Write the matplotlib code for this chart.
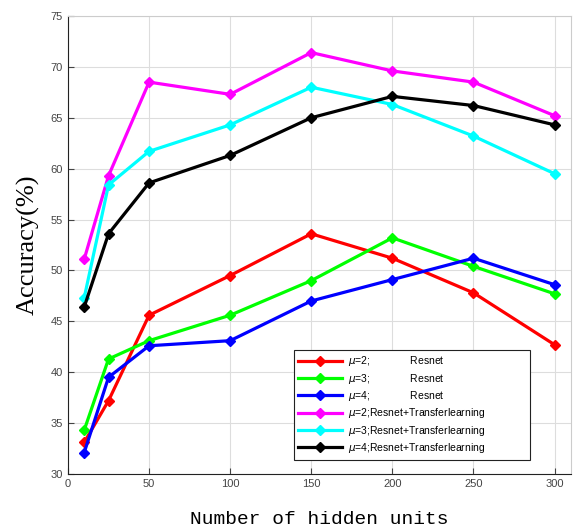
from matplotlib import pyplot as plt

HIDDEN_UNITS = [10, 25, 50, 100, 150, 200, 250, 300]

ACC_MU2_RESNET = [33.1, 37.2, 45.6, 49.5, 53.6, 51.2, 47.8, 42.7]
ACC_MU3_RESNET = [34.3, 41.3, 43.1, 45.6, 49.0, 53.2, 50.4, 47.7]
ACC_MU4_RESNET = [32.1, 39.5, 42.6, 43.1, 47.0, 49.1, 51.2, 48.6]
ACC_MU2_TRANSFER = [51.1, 59.3, 68.5, 67.3, 71.4, 69.6, 68.5, 65.2]
ACC_MU3_TRANSFER = [47.3, 58.4, 61.7, 64.3, 68.0, 66.3, 63.2, 59.5]
ACC_MU4_TRANSFER = [46.4, 53.6, 58.6, 61.3, 65.0, 67.1, 66.2, 64.3]

LABELS = [
    r"$\mu$=2;              Resnet",
    r"$\mu$=3;              Resnet",
    r"$\mu$=4;              Resnet",
    r"$\mu$=2;Resnet+Transferlearning",
    r"$\mu$=3;Resnet+Transferlearning",
    r"$\mu$=4;Resnet+Transferlearning",
]
COLORS = ["#ff0000", "#00ff00", "#0000ff", "#ff00ff", "#00ffff", "#000000"]

fig = plt.figure(figsize=(5.76, 5.32), dpi=100)
ax = fig.add_axes([0.118, 0.109, 0.873, 0.861])

series = [ACC_MU2_RESNET, ACC_MU3_RESNET, ACC_MU4_RESNET,
          ACC_MU2_TRANSFER, ACC_MU3_TRANSFER, ACC_MU4_TRANSFER]
for values, label, color in zip(series, LABELS, COLORS):
    ax.plot(HIDDEN_UNITS, values, color=color, linewidth=2.3, marker="D",
            markersize=5, label=label)

ax.set_xlim(0, 310)
ax.set_ylim(30, 75)
ax.set_xticks([0, 50, 100, 150, 200, 250, 300])
ax.set_yticks([30, 35, 40, 45, 50, 55, 60, 65, 70, 75])
ax.grid(True, color="#dddddd", linewidth=0.8)
ax.set_axisbelow(True)
ax.tick_params(direction="in", length=4, color="#444444", labelcolor="#444444",
               labelsize=8)
for lbl in ax.get_xticklabels() + ax.get_yticklabels():
    lbl.set_family("Liberation Sans")
ax.spines["left"].set_color("#222222")
ax.spines["bottom"].set_color("#222222")
ax.spines["top"].set_color("#cccccc")
ax.spines["right"].set_color("#cccccc")

ax.set_xlabel("Number of hidden units", family="Liberation Mono", fontsize=14,
              labelpad=16)
ax.set_ylabel("Accuracy(%)", family="Liberation Serif", fontsize=19, labelpad=8)

leg = ax.legend(loc="lower left", bbox_to_anchor=(0.449, 0.031, 0.469, 0.238),
                mode="expand", fancybox=False, framealpha=1, edgecolor="#222222",
                prop={"family": "Liberation Sans", "size": 7.5},
                labelspacing=0.32, handlelength=4.2, handletextpad=0.6,
                borderpad=0.45, borderaxespad=0)
leg.get_frame().set_linewidth(0.8)

fig.savefig("out.png", dpi=100)
